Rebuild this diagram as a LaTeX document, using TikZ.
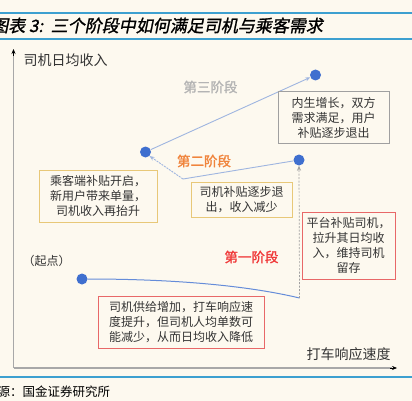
\documentclass[tikz,border=0pt]{standalone}
\usepackage{fontspec}
\setmainfont{Noto Sans CJK SC}
\newfontfamily\cjkbold[FakeBold=1.5]{Noto Sans CJK SC}
\newfontfamily\cjktitle[FakeBold=1.2,FakeSlant=0.2]{Noto Sans CJK SC}
\usetikzlibrary{arrows.meta}
\definecolor{bg}{HTML}{FDF9EF}
\definecolor{rule}{HTML}{3DA0D0}
\definecolor{dotc}{HTML}{3F6FCF}
\definecolor{conn}{HTML}{9FB5E0}
\definecolor{graybd}{HTML}{A0A0A0}
\definecolor{yellowbd}{HTML}{E8C878}
\definecolor{redbd}{HTML}{E86868}
\definecolor{stthree}{HTML}{B4B4B4}
\definecolor{sttwo}{HTML}{F0843C}
\definecolor{stone}{HTML}{F03A3A}
\definecolor{txt}{HTML}{333333}
\definecolor{axisc}{HTML}{A8A8A8}
\begin{document}
\begin{tikzpicture}[x=1pt,y=-1pt,
  tbox/.style={draw, line width=0.9pt, inner sep=0pt, align=center, text=txt,
    font=\fontsize{12}{15}\selectfont},
  dotn/.style={circle, fill=dotc, minimum size=11pt, inner sep=0pt},
  stage/.style={font=\cjkbold\fontsize{13.5}{15}\selectfont},
  conline/.style={draw=conn, line width=0.9pt},
  tip/.style={-{Stealth[length=5pt,width=4pt]}}
]
\useasboundingbox[fill=bg] (0,0) rectangle (412,401);
% rules
\coordinate (r1a) at (0,13); \coordinate (r1b) at (412,13);
\coordinate (r2a) at (0,39); \coordinate (r2b) at (412,39);
\coordinate (r3a) at (0,377); \coordinate (r3b) at (412,377);
\draw[rule, line width=1.2pt] (r1a) -- (r1b);
\draw[rule, line width=1.2pt] (r2a) -- (r2b);
\draw[rule, line width=1.2pt] (r3a) -- (r3b);
% title
\node[anchor=west, inner sep=0pt, text=black, font=\cjktitle\fontsize{17}{17}\selectfont] (title) at (-9,25.5) {图表 3:\ \ 三个阶段中如何满足司机与乘客需求};
% source
\node[anchor=west, inner sep=0pt, text=black, font=\fontsize{12.5}{13}\selectfont] (src) at (-2.5,392) {源：国金证券研究所};
% axes
\coordinate (origin) at (13.5,368);
\coordinate (ytop) at (13.5,49);
\coordinate (xend) at (397,368);
\draw[axisc, line width=1.3pt] (origin) -- (13.5,54);
\draw[axisc, line width=1.3pt] (origin) -- (392,368);
\draw[black, line width=0.6pt, tip] (13.5,56) -- (ytop);
\draw[black, line width=0.6pt, tip] (390,368) -- (xend);
\node[text=txt, inner sep=0pt, font=\fontsize{14}{14}\selectfont] (ylab) at (65.5,60) {司机日均收入};
\node[text=txt, inner sep=0pt, font=\fontsize{14}{14}\selectfont] (xlab) at (348.5,354) {打车响应速度};
% points
\node[dotn] (start) at (82,279) {};
\node[dotn] (ltwo) at (145.5,152) {};
\node[dotn] (top) at (315.5,75) {};
\node[dotn] (rtwo) at (299,160) {};
\coordinate (cend) at (299.5,298);
\coordinate (bend) at (183,179);
% connectors
\draw[draw=dotc!80, line width=1pt] (start.east) .. controls (170,279) and (245,285) .. (cend);
\draw[draw=graybd, line width=0.7pt, dash pattern=on 2pt off 1.5pt, tip] (cend) -- (rtwo.south);
\draw[conline] (rtwo) -- (bend);
\draw[conline, dash pattern=on 2pt off 1pt, tip] (bend) -- (ltwo.south east);
\draw[conline, tip] (ltwo) -- (top);
% stage labels
\node[stage, text=stthree] (s3) at (210.5,87) {第三阶段};
\node[stage, text=sttwo] (s2) at (204,161) {第二阶段};
\node[stage, text=stone] (s1) at (251.5,257) {第一阶段};
\node[text=txt, inner sep=0pt, font=\fontsize{12}{12}\selectfont] (qd) at (46.5,261) {（起点）};
% boxes
\node[tbox, draw=graybd, minimum width=111pt, minimum height=52pt] (boxA) at (333.5,117.5) {内生增长，双方\\需求满足，用户\\补贴逐步退出};
\node[tbox, draw=yellowbd, minimum width=118pt, minimum height=52pt] (boxB) at (98,196) {乘客端补贴开启，\\新用户带来单量，\\司机收入再抬升};
\node[tbox, draw=yellowbd, minimum width=101pt, minimum height=35pt] (boxC) at (241.5,199.5) {司机补贴逐步退\\出，收入减少};
\node[tbox, draw=redbd, minimum width=93pt, minimum height=67pt] (boxD) at (348.5,245.5) {平台补贴司机，\\拉升其日均收\\入，维持司机\\留存};
\node[tbox, draw=redbd, minimum width=166pt, minimum height=52pt] (boxE) at (181,322) {司机供给增加，打车响应速\\度提升，但司机人均单数可\\能减少，从而日均收入降低};
\end{tikzpicture}
\end{document}
